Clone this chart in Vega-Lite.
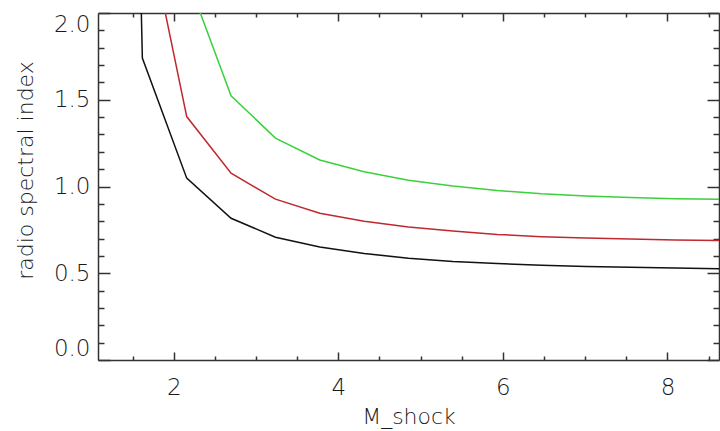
{
  "$schema": "https://vega.github.io/schema/vega-lite/v6.json",
  "width": 621,
  "height": 347,
  "autosize": {"type": "none"},
  "padding": {"left": 98, "top": 13, "right": 1, "bottom": 71},
  "background": "white",
  "config": {
    "view": {"stroke": null},
    "axis": {
      "domainColor": "#333333",
      "domainWidth": 1.5,
      "tickColor": "#333333",
      "tickWidth": 1.5,
      "grid": false,
      "labelFont": "DejaVu Sans",
      "labelFontWeight": 200,
      "labelFontSize": 23,
      "labelColor": "#1a1a1a",
      "titleFont": "DejaVu Sans",
      "titleFontWeight": 200,
      "titleFontSize": 22,
      "titleColor": "#1a1a1a"
    }
  },
  "data": {
    "values": [
      {"series": "a", "M": 1.08, "alpha": 13.0},
      {"series": "a", "M": 1.619, "alpha": 1.74},
      {"series": "a", "M": 2.158, "alpha": 1.048},
      {"series": "a", "M": 2.697, "alpha": 0.817},
      {"series": "a", "M": 3.236, "alpha": 0.708},
      {"series": "a", "M": 3.775, "alpha": 0.651},
      {"series": "a", "M": 4.314, "alpha": 0.614},
      {"series": "a", "M": 4.853, "alpha": 0.587},
      {"series": "a", "M": 5.392, "alpha": 0.568},
      {"series": "a", "M": 5.931, "alpha": 0.556},
      {"series": "a", "M": 6.47, "alpha": 0.546},
      {"series": "a", "M": 7.009, "alpha": 0.539},
      {"series": "a", "M": 7.548, "alpha": 0.534},
      {"series": "a", "M": 8.087, "alpha": 0.530},
      {"series": "a", "M": 8.626, "alpha": 0.526},
      {"series": "b", "M": 1.08, "alpha": 17.0},
      {"series": "b", "M": 1.619, "alpha": 2.64},
      {"series": "b", "M": 2.158, "alpha": 1.403},
      {"series": "b", "M": 2.697, "alpha": 1.077},
      {"series": "b", "M": 3.236, "alpha": 0.927},
      {"series": "b", "M": 3.775, "alpha": 0.846},
      {"series": "b", "M": 4.314, "alpha": 0.800},
      {"series": "b", "M": 4.853, "alpha": 0.767},
      {"series": "b", "M": 5.392, "alpha": 0.743},
      {"series": "b", "M": 5.931, "alpha": 0.724},
      {"series": "b", "M": 6.47, "alpha": 0.711},
      {"series": "b", "M": 7.009, "alpha": 0.703},
      {"series": "b", "M": 7.548, "alpha": 0.697},
      {"series": "b", "M": 8.087, "alpha": 0.692},
      {"series": "b", "M": 8.626, "alpha": 0.689},
      {"series": "c", "M": 1.08, "alpha": 22.0},
      {"series": "c", "M": 1.619, "alpha": 3.6},
      {"series": "c", "M": 2.158, "alpha": 2.21},
      {"series": "c", "M": 2.697, "alpha": 1.523},
      {"series": "c", "M": 3.236, "alpha": 1.279},
      {"series": "c", "M": 3.775, "alpha": 1.153},
      {"series": "c", "M": 4.314, "alpha": 1.085},
      {"series": "c", "M": 4.853, "alpha": 1.036},
      {"series": "c", "M": 5.392, "alpha": 1.003},
      {"series": "c", "M": 5.931, "alpha": 0.977},
      {"series": "c", "M": 6.47, "alpha": 0.958},
      {"series": "c", "M": 7.009, "alpha": 0.945},
      {"series": "c", "M": 7.548, "alpha": 0.936},
      {"series": "c", "M": 8.087, "alpha": 0.930},
      {"series": "c", "M": 8.626, "alpha": 0.926}
    ]
  },
  "layer": [
    {
      "mark": {"type": "line", "clip": true, "strokeWidth": 1.5},
      "encoding": {
        "x": {
          "field": "M",
          "type": "quantitative",
          "scale": {"domain": [1.08, 8.626], "nice": false, "zero": false},
          "axis": {
            "orient": "bottom",
            "title": "M_shock",
            "values": [1.5, 2, 2.5, 3, 3.5, 4, 4.5, 5, 5.5, 6, 6.5, 7, 7.5, 8, 8.5],
            "labelExpr": "datum.value % 2 === 0 ? format(datum.value, 'd') : ''",
            "tickSize": {"condition": {"test": "datum.value % 2 === 0", "value": -8}, "value": -4},
            "labelPadding": 24,
            "titleY": 63,
            "titleBaseline": "alphabetic"
          }
        },
        "y": {
          "field": "alpha",
          "type": "quantitative",
          "scale": {"domain": [0, 2], "nice": false, "zero": false},
          "axis": {
            "orient": "left",
            "title": "radio spectral index",
            "values": [0, 0.1, 0.2, 0.3, 0.4, 0.5, 0.6, 0.7, 0.8, 0.9, 1, 1.1, 1.2, 1.3, 1.4, 1.5, 1.6, 1.7, 1.8, 1.9, 2],
            "labelExpr": "abs(datum.value * 2 - round(datum.value * 2)) < 0.001 ? format(datum.value, '.1f') : ''",
            "tickSize": {"condition": {"test": "abs(datum.value * 2 - round(datum.value * 2)) < 0.001", "value": -12}, "value": -6},
            "labelPadding": 20,
            "labelFlush": true,
            "titleX": -66,
            "titleY": 157,
            "titleBaseline": "alphabetic"
          }
        },
        "color": {
          "field": "series",
          "type": "nominal",
          "scale": {"domain": ["a", "b", "c"], "range": ["#111111", "#c0282d", "#3ad13a"]},
          "legend": null
        }
      }
    },
    {
      "mark": {"type": "line", "opacity": 0, "clip": true},
      "encoding": {
        "x": {
          "field": "M",
          "type": "quantitative",
          "scale": {"domain": [1.08, 8.626], "nice": false, "zero": false},
          "axis": {
            "orient": "top",
            "title": null,
            "labels": false,
            "values": [1.5, 2, 2.5, 3, 3.5, 4, 4.5, 5, 5.5, 6, 6.5, 7, 7.5, 8, 8.5],
            "tickSize": {"condition": {"test": "datum.value % 2 === 0", "value": -8}, "value": -4}
          }
        },
        "y": {
          "field": "alpha",
          "type": "quantitative",
          "scale": {"domain": [0, 2], "nice": false, "zero": false},
          "axis": {
            "orient": "right",
            "title": null,
            "labels": false,
            "values": [0, 0.1, 0.2, 0.3, 0.4, 0.5, 0.6, 0.7, 0.8, 0.9, 1, 1.1, 1.2, 1.3, 1.4, 1.5, 1.6, 1.7, 1.8, 1.9, 2],
            "tickSize": {"condition": {"test": "abs(datum.value * 2 - round(datum.value * 2)) < 0.001", "value": -12}, "value": -6}
          }
        },
        "detail": {"field": "series", "type": "nominal"}
      }
    }
  ],
  "resolve": {"axis": {"x": "independent", "y": "independent"}}
}
